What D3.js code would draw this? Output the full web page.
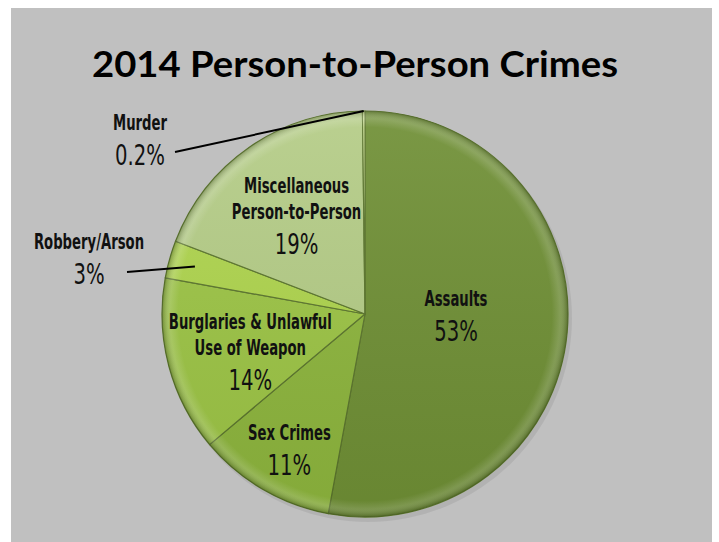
<!DOCTYPE html>
<html>
<head>
<meta charset="utf-8">
<script src="https://cdn.jsdelivr.net/npm/d3@7"></script>
<style>
  body { margin: 0; background: #ffffff; }
  svg { display: block; }
</style>
</head>
<body>
<div id="chart"></div>
<script>
// ---------- data ----------
var categories = ['Assaults', 'Sex Crimes', 'Burglaries & Unlawful Use of Weapon',
                  'Robbery/Arson', 'Miscellaneous Person-to-Person', 'Murder'];
var nameLines = [['Assaults'], ['Sex Crimes'], ['Burglaries & Unlawful', 'Use of Weapon'],
                 ['Robbery/Arson'], ['Miscellaneous', 'Person-to-Person'], ['Murder']];
var values = [53, 11, 14, 3, 19, 0.2];
var valueLabels = ['53%', '11%', '14%', '3%', '19%', '0.2%'];
var colors = ['#6f8f35', '#8db53d', '#9cc445', '#aed44d', '#b4cc86', '#d3e59e'];

var chart_width = 719;
var chart_height = 542;
var cx = 365, cy = 314, radius = 203;

var svg = d3.select('#chart')
  .append('svg')
  .attr('width', chart_width)
  .attr('height', chart_height);

// gray panel
svg.append('rect')
  .attr('x', 11).attr('y', 8)
  .attr('width', 701).attr('height', 534)
  .attr('fill', '#c0c0c0');

// title
svg.append('text')
  .attr('x', 355).attr('y', 77)
  .attr('text-anchor', 'middle')
  .attr('font-family', 'Lato, "Open Sans", sans-serif')
  .attr('font-weight', 'bold')
  .attr('font-size', 37)
  .attr('textLength', 526)
  .attr('lengthAdjust', 'spacingAndGlyphs')
  .attr('fill', '#000')
  .text('2014 Person-to-Person Crimes');

var defs = svg.append('defs');
var rim = defs.append('radialGradient')
  .attr('id', 'rim')
  .attr('gradientUnits', 'userSpaceOnUse')
  .attr('cx', 0).attr('cy', 0).attr('r', radius);
rim.append('stop').attr('offset', '0%').attr('stop-color', '#000').attr('stop-opacity', 0);
rim.append('stop').attr('offset', '92%').attr('stop-color', '#fff').attr('stop-opacity', 0);
rim.append('stop').attr('offset', '96%').attr('stop-color', '#fff').attr('stop-opacity', 0.15);
rim.append('stop').attr('offset', '100%').attr('stop-color', '#2f4010').attr('stop-opacity', 0.4);

var shade = defs.append('linearGradient')
  .attr('id', 'shade')
  .attr('x1', 0).attr('y1', 0).attr('x2', 0).attr('y2', 1);
shade.append('stop').attr('offset', '0%').attr('stop-color', '#fff').attr('stop-opacity', 0.08);
shade.append('stop').attr('offset', '100%').attr('stop-color', '#000').attr('stop-opacity', 0.06);

var pie = d3.pie().sort(null).value(function(d) { return d; });
var arcs = pie(values);

var arc = d3.arc().innerRadius(0).outerRadius(radius);

var g = svg.append('g').attr('transform', 'translate(' + cx + ',' + cy + ')');

// soft shadow
g.append('circle')
  .attr('cx', 3).attr('cy', 4).attr('r', radius + 1)
  .attr('fill', '#000').attr('opacity', 0.07);

g.selectAll('path.slice')
  .data(arcs)
  .enter()
  .append('path')
  .attr('class', 'slice')
  .attr('d', arc)
  .attr('fill', function(d, i) { return colors[i]; })
  .attr('stroke', '#5a742c')
  .attr('stroke-width', 1.2)
  .attr('stroke-linejoin', 'round');

g.selectAll('path.rim')
  .data(arcs)
  .enter()
  .append('path')
  .attr('class', 'rim')
  .attr('d', arc)
  .attr('fill', 'url(#rim)');

g.append('circle')
  .attr('r', radius)
  .attr('fill', 'url(#shade)');

// ---------- labels ----------
var nameFont = '"DejaVu Sans Condensed", "DejaVu Sans", sans-serif';

// inside labels: radius fraction along slice middle, plus nudge
var inside = {0: {k: 0.45, dx: 0, dy: -3}, 1: {k: 0.77, dx: 3, dy: 4},
              2: {k: 0.6, dx: 3, dy: 10}, 4: {k: 0.59, dx: 0, dy: 3}};

function addText(parent, x, y, str, size, weight, sx) {
  parent.append('text')
    .attr('transform', 'translate(' + x + ',' + y + ') scale(' + sx + ',1)')
    .attr('text-anchor', 'middle')
    .attr('font-family', nameFont)
    .attr('font-weight', weight)
    .attr('font-size', size)
    .attr('fill', '#111')
    .text(str);
}

function drawLabel(x, y, i) {
  var lines = nameLines[i];
  var lh = 26;
  var total = lines.length * lh + 32;
  var top = y - total / 2;
  var t = svg.append('g');
  lines.forEach(function(line, j) {
    addText(t, x, top + 16 + j * lh, line, 21, 'bold', 0.7);
  });
  addText(t, x, top + lines.length * lh + 25, valueLabels[i], 28, 'normal', 0.78);
}

arcs.forEach(function(d, i) {
  if (!inside[i]) return;
  var p = inside[i];
  var a = (d.startAngle + d.endAngle) / 2;
  var r = radius * p.k;
  drawLabel(cx + Math.sin(a) * r + p.dx, cy - Math.cos(a) * r + p.dy, i);
});

// outside labels with leader lines
function outside(i, k, tx, ty, lx, ly) {
  var d = arcs[i];
  var a = (d.startAngle + d.endAngle) / 2;
  var r = radius * k;
  svg.append('line')
    .attr('x1', cx + Math.sin(a) * r).attr('y1', cy - Math.cos(a) * r)
    .attr('x2', lx).attr('y2', ly)
    .attr('stroke', '#000')
    .attr('stroke-width', 2);
  drawLabel(tx, ty, i);
}

outside(5, 1.0, 140, 143, 175, 152);
outside(3, 0.87, 89, 262, 127, 272);
</script>
</body>
</html>
